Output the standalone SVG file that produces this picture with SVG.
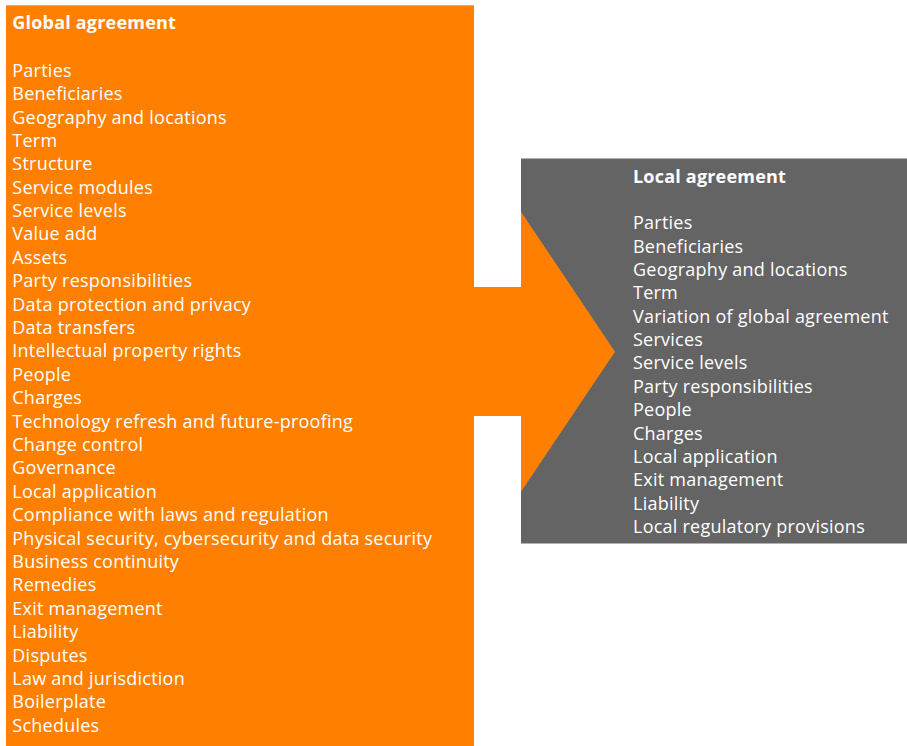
<svg xmlns="http://www.w3.org/2000/svg" width="907" height="746" viewBox="0 0 907 746">
  <style>
    .orange { fill: #ff8000; }
    .grey { fill: #646464; }
    text { font-family: "Open Sans", "Noto Sans", sans-serif; font-size: 18px; letter-spacing: 0.24px; fill: #ffffff; }
    .title { font-weight: 700; letter-spacing: 0.2px; }
  </style>
  <rect width="907" height="746" fill="#ffffff"/>

  <g id="local-agreement">
    <rect class="grey" x="521" y="158.5" width="386" height="385"/>
    <text x="633" y="183.3" class="title">Local agreement</text>
    <text x="633" y="229.3">Parties</text>
    <text x="633" y="252.7">Beneficiaries</text>
    <text x="633" y="276">Geography and locations</text>
    <text x="633" y="299.4">Term</text>
    <text x="633" y="322.7">Variation of global agreement</text>
    <text x="633" y="346.1">Services</text>
    <text x="633" y="369.4">Service levels</text>
    <text x="633" y="392.8">Party responsibilities</text>
    <text x="633" y="416.2">People</text>
    <text x="633" y="439.5">Charges</text>
    <text x="633" y="462.9">Local application</text>
    <text x="633" y="486.2">Exit management</text>
    <text x="633" y="509.6">Liability</text>
    <text x="633" y="532.9">Local regulatory provisions</text>
  </g>

  <g id="connectors">
    <polygon class="orange" points="474,287 521,287 521,211.7 615,351.7 521,491.7 521,416 474,416"/>
  </g>

  <g id="global-agreement">
    <rect class="orange" x="6" y="5.3" width="468" height="740.7"/>
    <text x="12.3" y="29.3" class="title">Global agreement</text>
    <text x="12.3" y="76.7">Parties</text>
    <text x="12.3" y="100.1">Beneficiaries</text>
    <text x="12.3" y="123.5">Geography and locations</text>
    <text x="12.3" y="146.9">Term</text>
    <text x="12.3" y="170.3">Structure</text>
    <text x="12.3" y="193.7">Service modules</text>
    <text x="12.3" y="217">Service levels</text>
    <text x="12.3" y="240.4">Value add</text>
    <text x="12.3" y="263.8">Assets</text>
    <text x="12.3" y="287.2">Party responsibilities</text>
    <text x="12.3" y="310.6">Data protection and privacy</text>
    <text x="12.3" y="334">Data transfers</text>
    <text x="12.3" y="357.4">Intellectual property rights</text>
    <text x="12.3" y="380.8">People</text>
    <text x="12.3" y="404.2">Charges</text>
    <text x="12.3" y="427.6">Technology refresh and future-proofing</text>
    <text x="12.3" y="451">Change control</text>
    <text x="12.3" y="474.3">Governance</text>
    <text x="12.3" y="497.7">Local application</text>
    <text x="12.3" y="521.1">Compliance with laws and regulation</text>
    <text x="12.3" y="544.5">Physical security, cybersecurity and data security</text>
    <text x="12.3" y="567.9">Business continuity</text>
    <text x="12.3" y="591.3">Remedies</text>
    <text x="12.3" y="614.7">Exit management</text>
    <text x="12.3" y="638.1">Liability</text>
    <text x="12.3" y="661.5">Disputes</text>
    <text x="12.3" y="684.9">Law and jurisdiction</text>
    <text x="12.3" y="708.3">Boilerplate</text>
    <text x="12.3" y="731.7">Schedules</text>
  </g>
</svg>
